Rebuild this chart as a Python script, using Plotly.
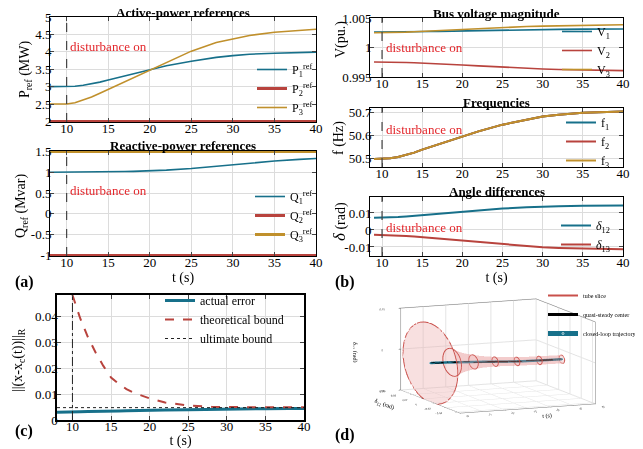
import numpy as np
import plotly.graph_objects as go

# ---------------- data ----------------
T = [8, 9, 10, 11, 12, 13, 14, 15, 16, 17, 18, 20, 22, 25, 28, 30, 32, 35, 38, 40]
DISTURBANCE_T = 10

P1 = [3.0, 3.0, 3.0, 3.01, 3.04, 3.08, 3.13, 3.19, 3.25, 3.31, 3.37, 3.49, 3.6, 3.73, 3.84, 3.89, 3.93, 3.96, 3.98, 3.99]
P2 = [2.0, 2.0, 2.0, 2.0, 2.0, 2.0, 2.0, 2.0, 2.0, 2.0, 2.0, 2.0, 2.0, 2.0, 2.0, 2.0, 2.0, 2.0, 2.0, 2.0]
P3 = [2.5, 2.5, 2.5, 2.54, 2.61, 2.7, 2.81, 2.92, 3.02, 3.12, 3.23, 3.45, 3.68, 4.02, 4.27, 4.38, 4.47, 4.56, 4.62, 4.65]

Q1 = [1.0, 1.0, 1.0, 1.0, 1.0, 1.003, 1.006, 1.01, 1.014, 1.018, 1.023, 1.035, 1.052, 1.09, 1.145, 1.19, 1.225, 1.27, 1.31, 1.33]
Q2 = [-1.0, -1.0, -1.0, -1.0, -1.0, -1.0, -1.0, -1.0, -1.0, -1.0, -1.0, -1.0, -1.0, -1.0, -1.0, -1.0, -1.0, -1.0, -1.0, -1.0]
Q3 = [1.5, 1.5, 1.5, 1.5, 1.5, 1.5, 1.5, 1.5, 1.5, 1.5, 1.5, 1.5, 1.5, 1.5, 1.5, 1.5, 1.5, 1.5, 1.5, 1.5]

V1 = [1.0026, 1.0026, 1.0026, 1.0026, 1.00261, 1.00263, 1.00265, 1.00268, 1.0027, 1.00273, 1.00276, 1.00282, 1.00288, 1.00297, 1.00303, 1.00306, 1.00308, 1.00311, 1.00313, 1.00314]
V2 = [0.99755, 0.99755, 0.99755, 0.99753, 0.9975, 0.99746, 0.99742, 0.99737, 0.99731, 0.99724, 0.99718, 0.99703, 0.99688, 0.99664, 0.99645, 0.99636, 0.99628, 0.99619, 0.99612, 0.99608]
V3 = [1.0025, 1.0025, 1.0025, 1.00252, 1.00256, 1.0026, 1.00266, 1.00273, 1.0028, 1.00287, 1.00295, 1.0031, 1.00324, 1.00342, 1.00356, 1.00363, 1.00369, 1.00376, 1.00382, 1.00386]

F1 = [50.5, 50.5, 50.5, 50.503, 50.508, 50.516, 50.527, 50.54, 50.551, 50.563, 50.574, 50.597, 50.619, 50.648, 50.671, 50.683, 50.691, 50.699, 50.703, 50.705]
F2 = [50.5, 50.5, 50.5, 50.503, 50.508, 50.516, 50.527, 50.54, 50.551, 50.563, 50.574, 50.597, 50.619, 50.648, 50.671, 50.683, 50.691, 50.699, 50.703, 50.705]
F3 = [50.5, 50.5, 50.5, 50.503, 50.508, 50.516, 50.527, 50.54, 50.551, 50.563, 50.574, 50.597, 50.619, 50.648, 50.671, 50.683, 50.691, 50.699, 50.703, 50.705]

D12 = [0.0072, 0.0072, 0.0072, 0.0073, 0.0076, 0.0079, 0.0083, 0.0087, 0.0091, 0.0096, 0.01, 0.0109, 0.0117, 0.0126, 0.0134, 0.0138, 0.014, 0.0142, 0.0144, 0.0144]
D13 = [-0.0028, -0.0028, -0.0029, -0.003, -0.0033, -0.0036, -0.0039, -0.0043, -0.0047, -0.0051, -0.0055, -0.0063, -0.0071, -0.0083, -0.0095, -0.0102, -0.0106, -0.011, -0.0113, -0.0114]

ERR = [0.003, 0.003, 0.0031, 0.0032, 0.0033, 0.0033, 0.0034, 0.0035, 0.0035, 0.0036, 0.0037, 0.0038, 0.0039, 0.004, 0.0042, 0.0043, 0.0044, 0.0044, 0.0045, 0.0045]
BOUND = [None, None, 0.0485, 0.0395, 0.0322, 0.0262, 0.021, 0.0165, 0.014, 0.012, 0.0105, 0.0084, 0.0068, 0.0056, 0.0051, 0.005, 0.0049, 0.0049, 0.0049, 0.0049]
ULT = [0.0048, 0.0048, 0.0048, 0.0048, 0.0048, 0.0048, 0.0048, 0.0048, 0.0048, 0.0048, 0.0048, 0.0048, 0.0048, 0.0048, 0.0048, 0.0048, 0.0048, 0.0048, 0.0048, 0.0048]

SLICE_T = [10, 15, 20, 25, 30, 35, 40]
TICKS_T = [10, 15, 20, 25, 30, 35, 40]

# ---------------- style ----------------
FONT = "Liberation Serif, Times New Roman, serif"
TEAL = "#17708a"
RED = "#b8433d"
GOLD = "#c0902c"
GRID = "#dcdcdc"
DIST_RED = "#e3262b"

fig = go.Figure()

def add(x, y, name, color, xa, ya, legend, width=1.6, dash=None):
    fig.add_trace(go.Scatter(x=x, y=y, name=name, mode="lines",
                             line=dict(color=color, width=width, dash=dash),
                             xaxis=xa, yaxis=ya, legend=legend))

# (a) top
add(T, P1, "P<sub>1</sub><sup>ref</sup>", TEAL, "x", "y", "legend")
add(T, P2, "P<sub>2</sub><sup>ref</sup>", RED, "x", "y", "legend", width=3)
add(T, P3, "P<sub>3</sub><sup>ref</sup>", GOLD, "x", "y", "legend")
# (a) bottom
add(T, Q1, "Q<sub>1</sub><sup>ref</sup>", TEAL, "x2", "y2", "legend2")
add(T, Q2, "Q<sub>2</sub><sup>ref</sup>", RED, "x2", "y2", "legend2", width=3)
add(T, Q3, "Q<sub>3</sub><sup>ref</sup>", GOLD, "x2", "y2", "legend2", width=3)
# (b) voltages
Tb = T[1:]
add(Tb, V1[1:], "V<sub>1</sub>", TEAL, "x3", "y3", "legend3")
add(Tb, V2[1:], "V<sub>2</sub>", RED, "x3", "y3", "legend3")
add(Tb, V3[1:], "V<sub>3</sub>", GOLD, "x3", "y3", "legend3")
# (b) frequencies
add(Tb, F1[1:], "f<sub>1</sub>", TEAL, "x4", "y4", "legend4", width=2)
add(Tb, F2[1:], "f<sub>2</sub>", RED, "x4", "y4", "legend4", width=2)
add(Tb, F3[1:], "f<sub>3</sub>", GOLD, "x4", "y4", "legend4", width=2)
# (b) angles
add(Tb, D12[1:], "<i>δ</i><sub>12</sub>", TEAL, "x5", "y5", "legend5", width=2)
add(Tb, D13[1:], "<i>δ</i><sub>13</sub>", RED, "x5", "y5", "legend5", width=2)
# (c)
add(T, ERR, "actual error", TEAL, "x6", "y6", "legend6", width=3)
add(T, BOUND, "theoretical bound", RED, "x6", "y6", "legend6", width=2, dash="dash")
add(T, ULT, "ultimate bound", "#222222", "x6", "y6", "legend6", width=1, dash="dot")

# (d) 3D tube
i0 = T.index(DISTURBANCE_T)
tt = np.array(T[i0:], dtype=float)
c12 = np.array(D12[i0:])
c13 = np.array(D13[i0:])
rr = np.array(BOUND[i0:], dtype=float)
th = np.linspace(0, 2 * np.pi, 48)
X = np.tile(tt[:, None], (1, th.size))
Y = c12[:, None] + rr[:, None] * np.cos(th)[None, :]
Z = c13[:, None] + rr[:, None] * np.sin(th)[None, :]
fig.add_trace(go.Surface(x=X, y=Y, z=Z, surfacecolor=np.zeros_like(X),
                         colorscale=[[0, "#eaa7a7"], [1, "#eaa7a7"]], cmin=0, cmax=1,
                         opacity=0.35, showscale=False, showlegend=False,
                         hoverinfo="skip", scene="scene",
                         lighting=dict(ambient=1, diffuse=0, specular=0)))
for k, ts in enumerate(SLICE_T):
    j = T.index(ts)
    fig.add_trace(go.Scatter3d(x=np.full(th.size, ts), y=D12[j] + BOUND[j] * np.cos(th),
                               z=D13[j] + BOUND[j] * np.sin(th), mode="lines",
                               line=dict(color="#c9504b", width=2), name="tube slice",
                               showlegend=(k == 0), legend="legend7", scene="scene"))
fig.add_trace(go.Scatter3d(x=tt, y=c12, z=c13, mode="lines", line=dict(color="black", width=3),
                           name="quasi-steady center", legend="legend7", scene="scene"))
fig.add_trace(go.Scatter3d(x=tt, y=c12, z=c13, mode="lines+markers",
                           line=dict(color=TEAL, width=5),
                           marker=dict(size=[3] + [0] * (len(tt) - 2) + [3], color=TEAL),
                           name="closed-loop trajectory", legend="legend7", scene="scene"))

# ---------------- axes ----------------
# the page body has an 8 px margin, so the figure is drawn at (8, 8) in the window
FIG_W, FIG_H, OFF = 635, 441, 8

def W(px):
    return (px - OFF) / FIG_W

def H(py):
    return 1 - (py - OFF) / FIG_H

def xax(dom, anchor, rng, title=None, lw=1, standoff=1):
    d = dict(domain=dom, anchor=anchor, range=rng, tickvals=TICKS_T, ticks="inside", ticklen=4,
             mirror="ticks", showline=True, linecolor="black", linewidth=lw, showgrid=True,
             gridcolor=GRID, zeroline=False, automargin=False, ticklabelstandoff=-6,
             tickfont=dict(family=FONT, size=13, color="black"))
    if title:
        d["title"] = dict(text=title, font=dict(family=FONT, size=14, color="black"), standoff=standoff)
    return d

def yax(dom, anchor, rng, tv, tt_, lw=1):
    return dict(domain=dom, anchor=anchor, range=rng, tickvals=tv, ticktext=tt_, ticks="inside",
                ticklen=4, mirror="ticks", showline=True, linecolor="black", linewidth=lw,
                showgrid=True, gridcolor=GRID, zeroline=False, automargin=False,
                ticklabelstandoff=-5,
                tickfont=dict(family=FONT, size=13, color="black"))

xa_dom = [W(50), W(316)]
xb_dom = [W(370), W(623)]
fig.update_layout(
    xaxis=xax(xa_dom, "y", [8, 40]),
    yaxis=yax([H(122), H(17)], "x", [1.985, 5], [2, 2.5, 3, 3.5, 4, 4.5, 5],
              ["2", "2.5", "3", "3.5", "4", "4.5", "5"]),
    xaxis2=xax(xa_dom, "y2", [8, 40], "t (s)"),
    yaxis2=yax([H(256), H(151)], "x2", [-1.012, 1.512], [-1, -0.5, 0, 0.5, 1, 1.5],
               ["-1", "-0.5", "0", "0.5", "1", "1.5"]),
    xaxis3=xax(xb_dom, "y3", [8.5, 40]),
    yaxis3=yax([H(77), H(18)], "x3", [0.995, 1.005], [0.995, 1, 1.005],
               ["0.995", "1", "1.005"]),
    xaxis4=xax(xb_dom, "y4", [8.5, 40]),
    yaxis4=yax([H(167), H(108)], "x4", [50.465, 50.72], [50.5, 50.6, 50.7],
               ["50.5", "50.6", "50.7"]),
    xaxis5=xax(xb_dom, "y5", [8.5, 40], "t (s)"),
    yaxis5=yax([H(256), H(197)], "x5", [-0.0153, 0.0194], [-0.01, 0, 0.01],
               ["-0.01", "0", "0.01"]),
    xaxis6=xax([W(57), W(304)], "y6", [8, 40], "t (s)", lw=1.5, standoff=10),
    yaxis6=yax([H(420), H(295)], "x6", [0, 0.0485], [0, 0.01, 0.02, 0.03, 0.04],
               ["0", "0.01", "0.02", "0.03", "0.04"], lw=1.5),
)

# disturbance lines
for xa in ["x", "x2", "x3", "x4", "x5"]:
    fig.add_shape(type="line", xref=xa, yref=xa.replace("x", "y") + " domain",
                  x0=DISTURBANCE_T, x1=DISTURBANCE_T, y0=0, y1=1,
                  line=dict(color="#444444", width=1.2, dash="dash"))
fig.add_shape(type="line", xref="x6", yref="y6 domain", x0=DISTURBANCE_T, x1=DISTURBANCE_T,
              y0=0, y1=1, line=dict(color="#222222", width=1, dash="dashdot"))

ann = []
def dist_text(xa, ya, yv):
    ann.append(dict(x=DISTURBANCE_T + 0.2, y=yv, xref=xa, yref=ya, text="disturbance on",
                    showarrow=False, xanchor="left", yanchor="middle",
                    font=dict(family=FONT, size=13, color=DIST_RED)))
dist_text("x", "y", 4.15)
dist_text("x2", "y2", 0.57)
dist_text("x3", "y3", 1.0)
dist_text("x4", "y4", 50.625)
dist_text("x5", "y5", 0.0015)

def title(xa, ya, text, ys=-4):
    ann.append(dict(x=0.5, y=1, xref=xa + " domain", yref=ya + " domain", text="<b>" + text + "</b>",
                    showarrow=False, xanchor="center", yanchor="bottom", yshift=ys,
                    font=dict(family=FONT, size=13, color="black")))
title("x", "y", "Active-power references", ys=-5)
title("x2", "y2", "Reactive-power references")
title("x3", "y3", "Bus voltage magnitude", ys=-5)
title("x4", "y4", "Frequencies")
title("x5", "y5", "Angle differences")

# y-axis titles
for text, px, py in [("P<sub>ref</sub> (MW)", 25, 70), ("Q<sub>ref</sub> (Mvar)", 21, 206),
                     ("V(pu.)", 341, 40), ("f (Hz)", 339, 138),
                     ("<span style='font-size:17px'><i>δ</i></span> (rad)", 339, 222),
                     ("||(x-x<sub>c</sub>(t))||<sub>R</sub>", 18, 360)]:
    ann.append(dict(x=W(px), y=H(py), xref="paper", yref="paper", text=text, textangle=-90,
                    showarrow=False, xanchor="center", yanchor="middle",
                    font=dict(family=FONT, size=14, color="black")))

for lab, px, py in [("(a)", 13, 282), ("(b)", 333, 282), ("(c)", 13, 431), ("(d)", 333, 435)]:
    ann.append(dict(x=W(px), y=H(py), xref="paper", yref="paper", text="<b>" + lab + "</b>",
                    showarrow=False, xanchor="left", yanchor="middle",
                    font=dict(family=FONT, size=16, color="black")))

def leg(x, y, xanchor="right", yanchor="bottom", size=12):
    return dict(x=x, y=y, xanchor=xanchor, yanchor=yanchor, bgcolor="rgba(0,0,0,0)",
                borderwidth=0, font=dict(family=FONT, size=size, color="black"),
                tracegroupgap=0, itemwidth=30)

ax3 = dict(showbackground=False, gridcolor="#e4e4e4", showline=True, linecolor="#777777",
           mirror=True, zeroline=False, ticks="outside", ticklen=2,
           tickfont=dict(family=FONT, size=6, color="#333333"))

fig.update_layout(
    width=FIG_W, height=FIG_H, margin=dict(l=0, r=0, t=0, b=0),
    paper_bgcolor="white", plot_bgcolor="white",
    font=dict(family=FONT, color="black"),
    annotations=ann,
    legend=leg(W(318), H(122)),
    legend2=leg(W(318), H(249)),
    legend3=leg(W(615), H(84)),
    legend4=leg(W(615), H(175)),
    legend5=leg(W(615), H(259)),
    legend6=leg(W(160), H(286), xanchor="left", yanchor="top", size=12),
    legend7=leg(W(641), H(281), xanchor="right", yanchor="top", size=6),
    scene=dict(
        domain=dict(x=[W(353), W(643)], y=[H(439), H(273)]),
        xaxis=dict(ax3, range=[10, 40], tickvals=TICKS_T,
                   title=dict(text="t (s)", font=dict(family=FONT, size=6))),
        yaxis=dict(ax3, range=[-0.045, 0.06], tickvals=[-0.04, -0.02, 0, 0.02, 0.04, 0.06],
                   title=dict(text="δ<sub>12</sub> (rad)", font=dict(family=FONT, size=6))),
        zaxis=dict(ax3, range=[-0.05, 0.05], tickvals=[-0.05, 0, 0.05],
                   title=dict(text="δ<sub>13</sub> (rad)", font=dict(family=FONT, size=6))),
        aspectmode="manual", aspectratio=dict(x=1.77, y=1.85, z=1.0),
        camera=dict(eye=dict(x=-0.98, y=-2.34, z=0.42), projection=dict(type="orthographic")),
        bgcolor="rgba(0,0,0,0)",
    ),
)

fig.write_html("out.html")
